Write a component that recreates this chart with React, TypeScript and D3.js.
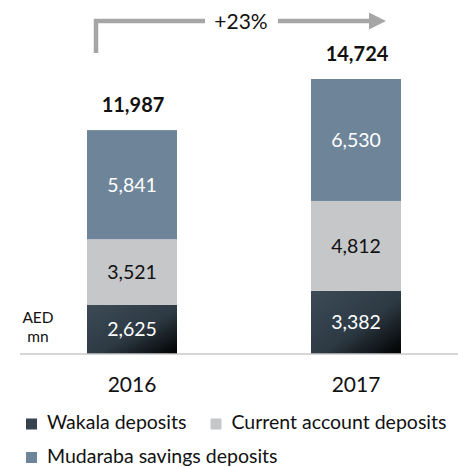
import React from "react";
import * as d3 from "d3";

const years = ["2016", "2017"];
const seriesNames = ["Wakala deposits", "Current account deposits", "Mudaraba savings deposits"];
const wakala = [2625, 3382];
const current = [3521, 4812];
const mudaraba = [5841, 6530];
const totals = [11987, 14724];
const growthLabel = "+23%";

const colors = ["url(#wakalaGrad)", "#c6c7c9", "#6e8599"];
const legendColors = ["#36434e", "#c6c7c9", "#6e8599"];
const labelColors = ["#ffffff", "#111111", "#ffffff"];

const FONT = "Lato, 'Open Sans', sans-serif";

export default function App() {
  const W = 458, H = 467;
  const x = d3.scalePoint<string>().domain(years).range([132, 356]);
  const bw = 90;
  const y = d3.scaleLinear().domain([0, 14724]).range([354, 79]);
  const fmt = d3.format(",");

  const rows = years.map((yr, i) => ({ year: yr, w: wakala[i], c: current[i], m: mudaraba[i] }));
  const stack = d3.stack<any>().keys(["w", "c", "m"])(rows);

  return (
    <svg width={W} height={H} style={{ position: "absolute", left: 0, top: 0 }} fontFamily={FONT}>
      <defs>
        <linearGradient id="wakalaGrad" x1="0" y1="0" x2="1" y2="1">
          <stop offset="0%" stopColor="#3d4b57" />
          <stop offset="55%" stopColor="#2d3a44" />
          <stop offset="100%" stopColor="#000000" />
        </linearGradient>
      </defs>
      <rect width={W} height={H} fill="#fff" />
      {/* growth arrow */}
      <path d={`M96,${53} V21 H205`} fill="none" stroke="#a6a6a6" strokeWidth={4.5} />
      <path d={`M278,21 H372`} fill="none" stroke="#a6a6a6" strokeWidth={4.5} />
      <polygon points="369,12.5 386,21 369,29.5" fill="#a6a6a6" />
      <text x={241} y={29} textAnchor="middle" fontSize={21} fill="#111">{growthLabel}</text>

      {stack.map((layer, li) =>
        layer.map((d, i) => {
          const x0 = (x(years[i]) as number) - bw / 2;
          const top = y(d[1]);
          const bot = y(d[0]);
          const val = d[1] - d[0];
          return (
            <g key={`${li}-${i}`}>
              <rect x={x0} y={top} width={bw} height={bot - top} fill={colors[li]} />
              <text x={x(years[i]) as number} y={(top + bot) / 2 + 7} textAnchor="middle"
                fontSize={19.5} fill={labelColors[li]}>{fmt(val)}</text>
            </g>
          );
        })
      )}
      {totals.map((t, i) => (
        <text key={i} x={(x(years[i]) as number) + 1} y={y(t) - 18} textAnchor="middle"
          fontSize={20} fontWeight="bold" fill="#111">{fmt(t)}</text>
      ))}
      <line x1={20} x2={458} y1={354} y2={354} stroke="#c8c8c8" strokeWidth={1.5} />
      <text x={38} y={323} textAnchor="middle" fontSize={15.5} fill="#111">AED</text>
      <text x={38} y={342} textAnchor="middle" fontSize={15.5} fill="#111">mn</text>
      {years.map((yr) => (
        <text key={yr} x={x(yr) as number} y={392} textAnchor="middle" fontSize={21} fill="#111">{yr}</text>
      ))}
      {/* legend */}
      {[
        { i: 0, sx: 26, ty: 429 },
        { i: 1, sx: 210.5, ty: 429 },
        { i: 2, sx: 26, ty: 462.5 },
      ].map(({ i, sx, ty }) => (
        <g key={i}>
          <rect x={sx} y={ty - 10.5} width={11} height={11} fill={legendColors[i]} />
          <text x={sx + 21} y={ty} fontSize={19.5} fill="#111">{seriesNames[i]}</text>
        </g>
      ))}
    </svg>
  );
}
